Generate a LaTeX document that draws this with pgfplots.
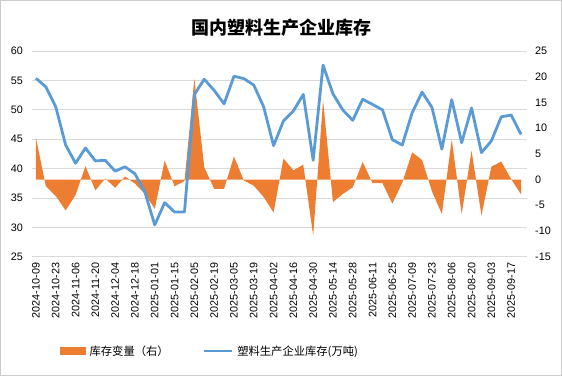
\documentclass[border=0pt]{standalone}
\usepackage{pgfplots}
\pgfplotsset{compat=1.18}
\usepackage{fontspec}
\setmainfont{Liberation Sans}
\newfontfamily\cjk{Noto Sans CJK SC}
\definecolor{exorange}{HTML}{ED7D31}
\definecolor{exblue}{HTML}{5B9BD5}
\definecolor{gridgray}{HTML}{D9D9D9}
\pgfplotsset{base/.style={scale only axis,
  width=495bp, height=205.7bp, xmin=-0.4, xmax=49.6,
  axis line style={draw=none}, major tick length=0pt,
  tick label style={font=\fontsize{10.8bp}{13bp}\selectfont},
  /pgf/number format/assume math mode=true}}
\begin{document}
\begin{tikzpicture}

% axis A: grid, left labels, date labels
\begin{axis}[base, ymin=25, ymax=60, ytick={25,30,...,60}, ymajorgrids,
  grid style={draw=gridgray, line width=0.8bp},
  xtick={0,2,...,48},
  xticklabels={2024-10-09,2024-10-23,2024-11-06,2024-11-20,2024-12-04,2024-12-18,2025-01-01,2025-01-15,2025-02-05,2025-02-19,2025-03-05,2025-03-19,2025-04-02,2025-04-16,2025-04-30,2025-05-14,2025-05-28,2025-06-11,2025-06-25,2025-07-09,2025-07-23,2025-08-06,2025-08-20,2025-09-03,2025-09-17},
  xticklabel style={rotate=90, anchor=east, inner sep=0pt}, xticklabel shift=6bp,
  yticklabel style={anchor=east, inner sep=0pt}, yticklabel shift=9bp]
\addplot[draw=none] coordinates {(0,25)};
\end{axis}

% axis B: right scale, orange area
\begin{axis}[base, ymin=-15, ymax=25, ytick={-15,-10,...,25}, yticklabel pos=right,
  yticklabel style={anchor=west, inner sep=0pt}, yticklabel shift=8bp, xtick=\empty]
\addplot[fill=exorange, draw=none] coordinates {(0,0)
(0,8.1) (1,-1.3) (2,-3.2) (3,-6.0) (4,-3.0) (5,2.6) (6,-2.1) (7,0.2) (8,-1.6) (9,0.6)
(10,-0.8) (11,-2.8) (12,-5.7) (13,3.7) (14,-1.3) (15,-0.3) (16,19.6) (17,2.4) (18,-1.8) (19,-1.8)
(20,4.5) (21,-0.2) (22,-1.2) (23,-3.4) (24,-6.4) (25,4.1) (26,1.8) (27,2.9) (28,-10.9) (29,15.4)
(30,-4.4) (31,-2.8) (32,-1.5) (33,3.4) (34,-0.7) (35,-0.7) (36,-4.7) (37,-0.6) (38,5.3) (39,3.8)
(40,-2.3) (41,-6.7) (42,7.8) (43,-6.7) (44,5.6) (45,-7.0) (46,2.5) (47,3.5) (48,0.1) (49,-2.9)
(49,0)} -- cycle;
\end{axis}

% axis C: left scale, blue line + legend, title and frame
\begin{axis}[base, ymin=25, ymax=60, xtick=\empty, ytick=\empty, clip=false,
  legend style={at={(axis description cs:0.0566,-0.4584)}, anchor=west, draw=none, fill=none,
    inner sep=0pt, legend columns=2, font=\cjk\fontsize{11.3bp}{13bp}\selectfont,
    nodes={inner sep=0pt, anchor=west},
    /tikz/every odd column/.append style={column sep=4bp},
    /tikz/every even column/.append style={column sep=34bp}}]
\addlegendimage{legend image code/.code={\fill[exorange] (0bp,-3.5bp) rectangle (25bp,3.5bp);}}
\addlegendentry{库存变量（右）}
\addplot[exblue, line width=2.8bp, line join=round,
  legend image code/.code={\draw[exblue, line width=2.6bp] (0bp,0bp) -- (28bp,0bp);}] coordinates {
(0,55.35) (1,53.9) (2,50.5) (3,44.0) (4,40.9) (5,43.5) (6,41.3) (7,41.4) (8,39.55) (9,40.3)
(10,39.1) (11,36.0) (12,30.4) (13,34.2) (14,32.6) (15,32.6) (16,52.6) (17,55.2) (18,53.3) (19,51.0)
(20,55.7) (21,55.3) (22,54.2) (23,50.5) (24,43.9) (25,48.1) (26,49.8) (27,52.6) (28,41.4) (29,57.6)
(30,52.7) (31,49.95) (32,48.2) (33,51.8) (34,50.9) (35,50.0) (36,44.9) (37,44.0) (38,49.5) (39,53.0)
(40,50.4) (41,43.3) (42,51.7) (43,44.4) (44,50.3) (45,42.7) (46,44.7) (47,48.8) (48,49.1) (49,45.8)};
\addlegendentry{塑料生产企业库存(万吨)}
\draw[color=gray!40, line width=0.8bp] (axis description cs:-0.06384,-0.57803) rectangle (axis description cs:1.06990,1.24599);
\node[font=\cjk\bfseries\fontsize{18bp}{20bp}\selectfont] at (axis description cs:0.50303,1.11424) {国内塑料生产企业库存};
\end{axis}
\end{tikzpicture}
\end{document}
